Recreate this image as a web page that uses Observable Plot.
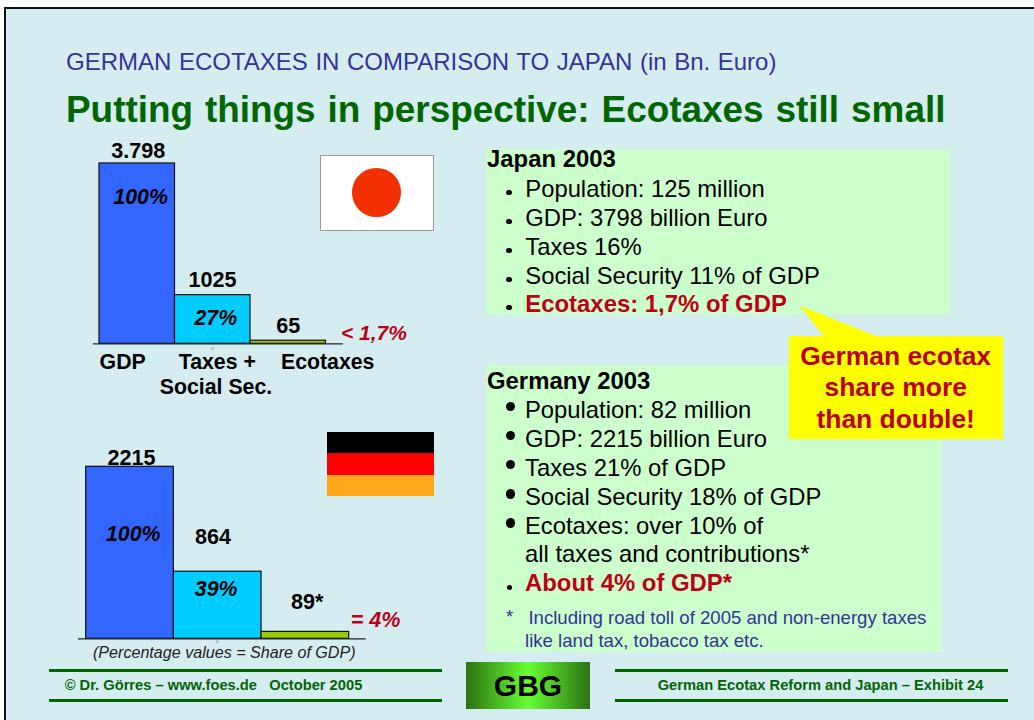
<!DOCTYPE html>
<html>
<head>
<meta charset="utf-8">
<title>German ecotaxes in comparison to Japan</title>
<script src="https://cdn.jsdelivr.net/npm/d3@7"></script>
<script src="https://cdn.jsdelivr.net/npm/@observablehq/plot@0.6"></script>
<style>
  html, body { margin: 0; padding: 0; background: #fff; }
  #slide { position: relative; width: 1034px; height: 720px; overflow: hidden;
           font-family: "Liberation Sans", Arial, sans-serif; }
  #panel { position: absolute; left: 4px; top: 7px; width: 1040px; height: 730px;
           background: #d5edf1; border: 2.5px solid #111; box-sizing: border-box; }
  .t { position: absolute; line-height: 1; white-space: pre; }
  .box { position: absolute; }
  .dot { position: absolute; border-radius: 50%; background: #000; }
  svg.chart { position: absolute; overflow: visible; background: none; }
</style>
</head>
<body>
<div id="slide"><div id="panel"></div></div>
<script>
// Billions of euro, 2003
const categories = ["GDP", "Taxes + Social Sec.", "Ecotaxes"];
const japanValues = [3798, 1025, 65];
const germanyValues = [2215, 864, 89];
const japanValueLabels = ["3.798", "1025", "65"];
const germanyValueLabels = ["2215", "864", "89*"];
const japanShareLabels = ["100%", "27%"];
const germanyShareLabels = ["100%", "39%"];
const barColors = ["#3366ff", "#00ccff", "#99cc00"];

const japanFacts = ["Population: 125 million", "GDP: 3798 billion Euro", "Taxes 16%", "Social Security 11% of GDP"];
const japanHighlight = "Ecotaxes: 1,7% of GDP";
const germanyFacts = ["Population: 82 million", "GDP: 2215 billion Euro", "Taxes 21% of GDP", "Social Security 18% of GDP", "Ecotaxes: over 10% of"];
const germanyContinuation = "all taxes and contributions*";
const germanyHighlight = "About 4% of GDP*";
const calloutLines = ["German ecotax", "share more", "than double!"];

const RED = "#bc0018", GREEN = "#006600", BLUE = "#333399";
const slide = document.getElementById("slide");

// Absolutely placed text, positioned by its baseline.
function put(text, x, baseline, size, opts = {}) {
  const el = document.createElement("div");
  el.className = "t";
  el.textContent = text;
  el.style.top = (baseline - 0.8465 * size) + "px";
  el.style.fontSize = size + "px";
  el.style.color = opts.color || "#000";
  if (opts.bold) el.style.fontWeight = "bold";
  if (opts.italic) el.style.fontStyle = "italic";
  if (opts.wordSpacing) el.style.wordSpacing = opts.wordSpacing + "px";
  if (opts.center) { el.style.left = x + "px"; el.style.transform = "translateX(-50%)"; }
  else el.style.left = x + "px";
  slide.appendChild(el);
}
function rect(x, y, w, h, css) {
  const el = document.createElement("div");
  el.className = "box";
  Object.assign(el.style, { left: x + "px", top: y + "px", width: w + "px", height: h + "px" }, css);
  slide.appendChild(el);
  return el;
}
function dot(cx, cy, r, color = "#000") {
  const el = document.createElement("div");
  el.className = "dot";
  Object.assign(el.style, { left: (cx - r) + "px", top: (cy - r) + "px", width: 2 * r + "px", height: 2 * r + "px", background: color });
  slide.appendChild(el);
}

// One bar chart; left/top place the SVG on the slide, barLeft/barRight/base/peak the bars inside it.
// The frame margins set how far the baseline rule runs.
function barChart({ left, top, width, height, values, barLeft, barRight, base, peak, ruleFrom, ruleTo, texts }) {
  const rows = categories.map((c, i) => ({ category: c, value: values[i], color: barColors[i] }));
  const fontFamily = '"Liberation Sans", Arial, sans-serif';
  const svg = Plot.plot({
    width, height,
    marginTop: 0, marginBottom: 0,
    marginLeft: ruleFrom - left, marginRight: width - (ruleTo - left),
    style: { background: "none", overflow: "visible", fontFamily },
    x: { type: "band", domain: categories, range: [barLeft - left, barRight - left], padding: 0, round: false, axis: null },
    y: { domain: [0, d3.max(values)], range: [base - top, peak - top], axis: null },
    marks: [
      Plot.barY(rows, { x: "category", y: "value", fill: "color", stroke: "#111", strokeWidth: 1.2 }),
      Plot.ruleY([0], { stroke: "#222", strokeWidth: 1.2 }),
      ...texts.map(t => Plot.text([t], {
        x: () => t.category, y: () => t.value, text: d => d.text,
        dx: t.dx, dy: t.dy, fontSize: t.italic ? 21.3 : 21.6, fontWeight: "bold",
        fontStyle: t.italic ? "italic" : "normal", fill: "#000", lineAnchor: "bottom", textAnchor: "middle"
      }))
    ]
  });
  svg.classList.add("chart");
  svg.style.left = left + "px";
  svg.style.top = top + "px";
  slide.appendChild(svg);
}

// Headings
put("GERMAN ECOTAXES IN COMPARISON TO JAPAN (in Bn. Euro)", 66, 70, 24, { color: BLUE, wordSpacing: 0.9 });
put("Putting things in perspective: Ecotaxes still small", 66, 123, 36.9, { color: GREEN, bold: true, wordSpacing: 1.7 });

// Text boxes sit below the charts and callout
rect(486, 148.5, 464, 166.5, { background: "#ccffcc" });
rect(486, 365, 456, 286.5, { background: "#ccffcc" });

function labelled(values, valueLabels, shareLabels, labelPos, sharePos) {
  const out = [];
  labelPos.forEach((p, i) => out.push({ category: categories[i], value: values[i], text: valueLabels[i], dx: p[0], dy: p[1] }));
  sharePos.forEach((p, i) => out.push({ category: categories[i], value: values[i], text: shareLabels[i], dx: p[0], dy: p[1], italic: true }));
  return out;
}
// Japan chart
barChart({
  left: 60, top: 130, width: 380, height: 280,
  values: japanValues, barLeft: 99, barRight: 325.5, base: 343.3, peak: 163,
  ruleFrom: 93, ruleTo: 342.7,
  texts: labelled(japanValues, japanValueLabels, japanShareLabels,
    [[1, -5.3], [-0.3, -8.3], [0, -7.5]], [[3.4, 40.3], [3, 30]])
});
// Germany chart
barChart({
  left: 60, top: 420, width: 380, height: 240,
  values: germanyValues, barLeft: 85.7, barRight: 348.7, base: 638.3, peak: 466.3,
  ruleFrom: 78, ruleTo: 365.7,
  texts: labelled(germanyValues, germanyValueLabels, germanyShareLabels,
    [[1.5, -2.3], [-4.6, -27.3], [1.9, -23.1]], [[3.2, 73.7], [-1.6, 24.7]])
});

// Category labels and share annotations
put("GDP", 122.7, 370, 21.3, { bold: true, center: true });
put("Taxes +", 217.3, 370, 21.3, { bold: true, center: true });
put("Social Sec.", 216, 395, 21.3, { bold: true, center: true });
put("Ecotaxes", 327.7, 370, 21.3, { bold: true, center: true });
put("< 1,7%", 341, 339.3, 21, { bold: true, italic: true, color: RED });
put("= 4%", 350.7, 627.3, 21.6, { bold: true, italic: true, color: RED });
put("(Percentage values = Share of GDP)", 224.3, 657.3, 16.1, { italic: true, center: true, color: "#222" });
put("D", 212.7, 350.6, 4, { center: true, color: "#666" });
put("D", 217.3, 643, 4, { center: true, color: "#666" });

// Flags
rect(320, 155, 114, 75.5, { background: "#fff", border: "1px solid #999", boxSizing: "border-box" });
dot(376.7, 192.7, 24.3, "#f23000");
rect(327, 432, 107, 21, { background: "#000" });
rect(327, 453, 107, 22, { background: "#ff0000" });
rect(327, 475, 107, 21, { background: "#ffa81a" });

// Japan list
put("Japan 2003", 487, 167.7, 23.9, { bold: true });
const japanY = [197.3, 226.3, 255, 283.7];
japanFacts.forEach((s, i) => { put(s, 525.3, japanY[i], 23.8); dot(509, japanY[i] - 4.6, 2.6); });
put(japanHighlight, 525.3, 312, 23.9, { bold: true, color: RED });
dot(509, 307.7, 2.6);

// Germany list
put("Germany 2003", 487, 389.3, 23.9, { bold: true });
const germanyY = [417.7, 446.7, 475.7, 505, 534];
germanyFacts.forEach((s, i) => { put(s, 525, germanyY[i], 23.8); dot(510.6, germanyY[i] - 11, 4.6); });
put(germanyContinuation, 525, 562.3, 23.8);
put(germanyHighlight, 525, 591, 23.9, { bold: true, color: RED });
dot(509.5, 587.3, 2.8);
put("*", 506, 624, 18.6, { color: BLUE });
put("Including road toll of 2005 and non-energy taxes", 528.4, 624.3, 18.6, { color: BLUE });
put("like land tax, tobacco tax etc.", 525, 647.3, 18.6, { color: BLUE });

// Callout with its pointer
rect(789.3, 335.7, 213.4, 103.6, { background: "#ffff00" });
const ns = "http://www.w3.org/2000/svg";
const pointer = document.createElementNS(ns, "svg");
pointer.setAttribute("width", 1034);
pointer.setAttribute("height", 720);
pointer.style.cssText = "position:absolute;left:0;top:0;pointer-events:none";
const poly = document.createElementNS(ns, "polygon");
poly.setAttribute("points", "800,305.7 824,336.5 877,336.5");
poly.setAttribute("fill", "#ffff00");
pointer.appendChild(poly);
slide.appendChild(pointer);
[365, 396.7, 428.7].forEach((y, i) => put(calloutLines[i], 895.7, y, 26.4, { bold: true, color: RED, center: true }));

// Footer
[670, 700.3].forEach(y => {
  rect(49.3, y - 1.5, 393, 3, { background: GREEN });
  rect(614.7, y - 1.5, 393, 3, { background: GREEN });
});
put("© Dr. Görres – www.foes.de   October 2005", 64.7, 690.7, 14.7, { bold: true, color: GREEN });
put("German Ecotax Reform and Japan – Exhibit 24", 657.7, 690.7, 14.7, { bold: true, color: GREEN });
rect(466, 662, 124, 47, { background: "linear-gradient(90deg,#2c7212,#66ff33 50%,#2c7212)" });
put("GBG", 528, 696.7, 30, { bold: true, center: true });
</script>
</body>
</html>
